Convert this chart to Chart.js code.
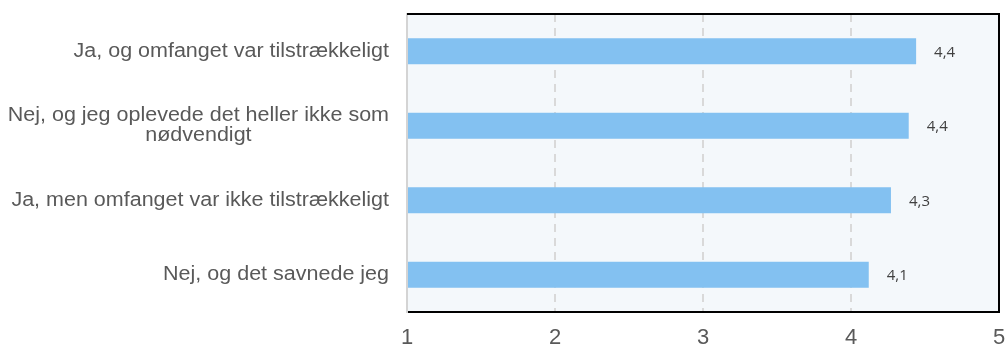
<!DOCTYPE html>
<html>
<head>
<meta charset="utf-8">
<script src="https://cdn.jsdelivr.net/npm/chart.js@4/dist/chart.umd.min.js"></script>
<style>
  body { margin: 0; background: #ffffff; }
  #wrap { width: 1005px; height: 345px; position: relative; }
</style>
</head>
<body>
<div id="wrap"><canvas id="scoreChart"></canvas></div>
<script>
// answers (multi-line ones split into lines)
let categories = [
    ["Ja, og omfanget var tilstrækkeligt"],
    ["Nej, og jeg oplevede det heller ikke som", "nødvendigt"],
    ["Ja, men omfanget var ikke tilstrækkeligt"],
    ["Nej, og det savnede jeg"]
];

// average score per answer
let scores = [4.44, 4.39, 4.27, 4.12];

// x axis ticks
let tickValues = [1, 2, 3, 4, 5];

let labelColor = "#595959";
let barColor = "#83c1f1";

// light panel behind the bars + black frame on top/right
let panelPlugin = {
    id: "panel",
    beforeDraw: function(chart){
        let a = chart.chartArea;
        let ctx = chart.ctx;
        ctx.save();
        ctx.fillStyle = "#f4f8fb";
        ctx.fillRect(a.left, a.top, a.right - a.left, a.bottom - a.top);
        ctx.restore();
    },
    afterDraw: function(chart){
        let a = chart.chartArea;
        let ctx = chart.ctx;
        ctx.save();
        ctx.strokeStyle = "#000000";
        ctx.lineWidth = 2;
        ctx.beginPath();
        ctx.moveTo(a.left, a.top);
        ctx.lineTo(a.right, a.top);
        ctx.lineTo(a.right, a.bottom);
        ctx.stroke();
        ctx.restore();
    }
};

// answer texts left of the plot, multi-line ones centred under each other
let answerLabels = {
    id: "answerLabels",
    afterDraw: function(chart){
        let ctx = chart.ctx;
        let yScale = chart.scales.y;
        let right = chart.chartArea.left - 18;
        let lineH = 20;
        let stretch = 1.075;   // text is a little wide
        ctx.save();
        ctx.font = "20px 'Liberation Sans', Arial, sans-serif";
        ctx.fillStyle = labelColor;
        ctx.textBaseline = "middle";

        function put(text, x, y, align){
            ctx.save();
            ctx.translate(x, y);
            ctx.scale(stretch, 1);
            ctx.textAlign = align;
            ctx.fillText(text, 0, 0);
            ctx.restore();
        }

        for(let i = 0; i < categories.length; i++){
            let lines = categories[i];
            let y = yScale.getPixelForValue(i);
            let startY = y - (lines.length - 1) * lineH / 2;
            if(lines.length === 1){
                put(lines[0], right, y, "right");
            } else {
                let maxW = 0;
                lines.forEach(function(l){ maxW = Math.max(maxW, ctx.measureText(l).width * stretch); });
                for(let j = 0; j < lines.length; j++){
                    put(lines[j], right - maxW / 2, startY + j * lineH, "center");
                }
            }
        }
        ctx.restore();
    }
};

// value printed right of each bar
let valueLabels = {
    id: "valueLabels",
    afterDatasetsDraw: function(chart){
        let ctx = chart.ctx;
        let meta = chart.getDatasetMeta(0);
        ctx.save();
        ctx.font = "15px 'Open Sans', sans-serif";
        ctx.fillStyle = "#404040";
        ctx.textAlign = "left";
        ctx.textBaseline = "middle";
        meta.data.forEach(function(bar, i){
            let text = scores[i].toFixed(1).replace(".", ",");
            ctx.fillText(text, bar.x + 18, bar.y + 1);
        });
        ctx.restore();
    }
};

let ctx = document.getElementById("scoreChart").getContext("2d");

let chart = new Chart(ctx, {

    type: "bar",

    data: {
        labels: categories.map(function(c){ return c.join(" "); }),
        datasets: [{
            data: scores,
            backgroundColor: barColor,
            barPercentage: 0.35,
            categoryPercentage: 1
        }]
    },

    options: {
        indexAxis: "y",
        responsive: true,
        maintainAspectRatio: false,
        animation: false,
        layout: {
            padding: { top: 14, right: 6, left: 0, bottom: 0 }
        },
        plugins: {
            legend: { display: false },
            tooltip: { enabled: false }
        },
        scales: {
            x: {
                min: tickValues[0],
                max: tickValues[tickValues.length - 1],
                afterBuildTicks: function(scale){
                    scale.ticks = tickValues.map(function(v){ return { value: v }; });
                },
                afterFit: function(scale){
                    scale.height = 33;
                    scale.paddingLeft = 0;
                    scale.paddingRight = 0;
                },
                ticks: {
                    color: labelColor,
                    font: { family: "'Liberation Sans', Arial, sans-serif", size: 22 },
                    padding: 13,
                    maxRotation: 0
                },
                grid: {
                    drawTicks: false,
                    lineWidth: 2,
                    color: function(c){
                        if(c.tick && (c.tick.value === tickValues[0] || c.tick.value === tickValues[tickValues.length - 1])){
                            return "rgba(0,0,0,0)";
                        }
                        return "#d9d9d9";
                    }
                },
                border: {
                    display: true,
                    color: "#000000",
                    width: 2,
                    dash: [8, 6]
                }
            },
            y: {
                afterFit: function(scale){
                    scale.width = 407;
                },
                ticks: { display: false },
                grid: { display: false, drawTicks: false },
                border: {
                    display: true,
                    color: "#d4d4d4",
                    width: 2,
                    z: 1
                }
            }
        }
    },

    plugins: [panelPlugin, answerLabels, valueLabels]

});
</script>
</body>
</html>
